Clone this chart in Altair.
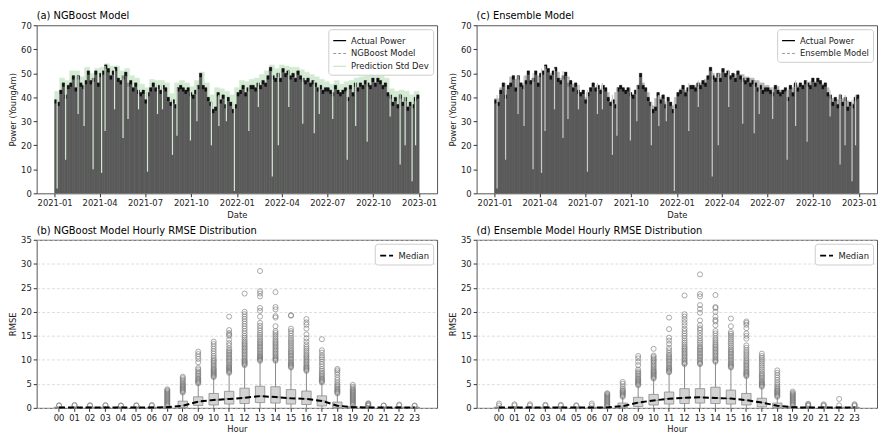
import altair as alt
import pandas as pd

FONT = "DejaVu Sans"

# ---------------- top panels: daily peak envelope of actual power (5-day steps from 2021-01-01)
actual_peak = [
    39, 38, 43, 46, 41, 45, 46, 49, 44, 49, 46, 45,
    47, 51, 47, 48, 51, 46, 50, 51, 53.5, 52, 49, 51,
    52.5, 48, 47, 49, 50.5, 46, 47, 44, 46, 43, 42, 43,
    39, 42, 44, 46, 44, 45, 43, 45, 44, 40, 38, 39,
    37, 44, 45, 44, 43, 44, 42, 41, 43, 45, 50, 45,
    44, 40, 38, 35, 36, 42, 39, 41, 37, 40, 38, 35, 37,
    42, 43, 45, 42, 44, 45, 45, 44, 46, 45, 47, 46,
    49, 52.5, 49, 48, 50, 48, 52, 50, 51, 49, 50, 48,
    51, 49, 48, 47, 48, 46, 47, 46, 44, 45, 43, 44,
    44, 43, 42, 45, 43, 42, 43, 44, 40, 45, 42, 46,
    44, 46, 45, 47, 46, 45, 48, 46, 48, 47, 45, 46,
    42, 41, 38, 40, 37, 41, 38, 40, 36, 38, 37, 40, 41,
]
# NGBoost prediction + std (10-day steps)
ngb_band_top = [
    42.5, 48, 47, 51, 51, 48.5, 52.5, 50, 52, 52.5, 54, 53,
    53, 51, 52, 49, 48, 45.5, 44, 47.5, 47, 47, 46, 41.5,
    46, 47, 46, 44.5, 47, 50.5, 46, 41, 44, 43.5, 42.5, 41,
    44, 47, 46.5, 47.5, 48, 49.5, 51, 53.5, 52, 53.5, 53, 52.5,
    52.5, 51.5, 50.5, 49.5, 48.5, 47.5, 46.5, 45.5, 47, 45.5, 46.5, 47,
    48, 48.5, 49, 50, 50, 49, 48, 43.5, 42.5, 43, 42.5, 41, 42.5,
]
# Ensemble prediction peaks (10-day steps)
ens_top = [
    39.5, 44, 43, 48.5, 47.5, 46, 49, 47, 49, 50, 52, 50,
    50.5, 48, 48.5, 45.5, 45, 42, 40, 44, 43.5, 43.5, 42, 38,
    42, 43.5, 42.5, 41, 43, 46, 42, 36.5, 39.5, 40, 38, 36.5,
    40, 43.5, 43, 44.5, 45, 46, 47.5, 50, 48.5, 50, 49.5, 49,
    49.5, 49.5, 48.5, 48, 47, 46, 45, 44, 44.5, 43, 43, 44,
    45, 45, 46, 46.5, 46.5, 45.5, 44, 39.5, 39, 39.5, 38.5, 37.5, 39,
]
# cloudy-day dips: date, lowest peak, envelope level
dip_dates = [
    "2021-01-06", "2021-01-23", "2021-02-17", "2021-03-01", "2021-03-19", "2021-04-05",
    "2021-04-12", "2021-05-01", "2021-05-18", "2021-05-28", "2021-06-18", "2021-07-06",
    "2021-07-26", "2021-08-05", "2021-08-25", "2021-09-03", "2021-09-30", "2021-10-13",
    "2021-11-11", "2021-11-26", "2021-12-11", "2021-12-27", "2022-01-25", "2022-02-13",
    "2022-03-13", "2022-03-25", "2022-04-15", "2022-05-13", "2022-06-05", "2022-06-15",
    "2022-07-12", "2022-08-10", "2022-08-27", "2022-09-19", "2022-11-04", "2022-11-24",
    "2022-12-04", "2022-12-18", "2022-12-25",
]
dip_low = [
    2, 14, 33, 28, 10, 8.5, 26, 35, 23, 31, 35, 9,
    33, 35, 16, 24, 22, 30, 20, 28, 30, 1, 26, 36,
    7, 20, 36, 29, 25, 33, 31, 14, 28, 21.5, 32, 12,
    20, 5, 20,
]
dip_top = [
    41, 46, 49, 49, 50, 52, 53, 52, 51, 48, 45, 43,
    46, 46, 41, 44, 44, 45, 38, 41, 40, 38, 46, 47,
    51, 50, 51, 49, 47, 46, 44, 43, 47, 47, 43, 41,
    41, 39, 41,
]

date_ticks = [(2021, 1), (2021, 4), (2021, 7), (2021, 10), (2022, 1), (2022, 4),
              (2022, 7), (2022, 10), (2023, 1)]

# ---------------- bottom panels: hourly RMSE distributions
hours = [f"{h:02d}" for h in range(24)]

ngb_q1 = [0, 0, 0, 0, 0, 0, 0, 0, 0.05, 0.5, 0.6, 0.8, 0.9, 1.1, 1.0, 0.8, 0.7, 0.4, 0.05, 0, 0, 0, 0, 0]
ngb_med = [0.08, 0.08, 0.08, 0.08, 0.08, 0.08, 0.08, 0.15, 0.45, 1.3, 1.65, 1.85, 2.1, 2.45, 2.25, 2.0, 1.85, 1.45, 0.45, 0.15, 0.08, 0.08, 0.08, 0.08]
ngb_q3 = [0.15, 0.15, 0.15, 0.15, 0.15, 0.15, 0.15, 0.2, 1.4, 2.3, 3.0, 3.45, 4.1, 4.5, 4.4, 3.8, 3.5, 2.5, 1.2, 0.25, 0.15, 0.15, 0.15, 0.15]
ngb_whi = [0.3, 0.3, 0.3, 0.3, 0.3, 0.3, 0.3, 0.4, 3.1, 5.0, 6.3, 7.2, 8.8, 9.7, 9.7, 8.3, 7.6, 5.2, 2.9, 0.55, 0.3, 0.3, 0.3, 0.3]
ngb_out = {
    "00": [0.45, 0.55], "01": [0.5, 0.6], "02": [0.45, 0.55], "03": [0.5, 0.55],
    "04": [0.45, 0.5], "05": [0.45, 0.55], "06": [0.45, 0.6],
    "07": [0.45, 0.65, 0.85, 1.05, 1.25, 1.45, 1.65, 1.85, 2.05, 2.25, 2.45, 2.65, 2.85, 3.05, 3.25, 3.45, 3.65, 3.85],
    "08": [3.2, 3.4, 3.6, 3.8, 4.0, 4.2, 4.4, 4.6, 4.8, 5.0, 5.3, 5.6, 5.9, 6.2, 6.5],
    "09": [5.1, 5.3, 5.5, 5.7, 5.9, 6.1, 6.4, 6.7, 7.0, 7.3, 7.6, 8.0, 8.3, 9.5, 10.2, 10.7, 11.2, 11.7],
    "10": [6.4, 6.6, 6.8, 7.0, 7.2, 7.4, 7.6, 7.8, 8.0, 8.2, 8.5, 8.8, 9.1, 9.4, 9.7, 10.0, 10.4, 10.8, 11.3, 11.8, 12.3, 12.8, 13.3, 13.8],
    "11": [7.3, 7.5, 7.7, 7.9, 8.1, 8.3, 8.5, 8.7, 9.0, 9.3, 9.6, 9.9, 10.2, 10.5, 10.8, 11.1, 11.4, 11.7, 12.0, 12.4, 13.0, 13.5, 14.2, 15.0, 15.3, 15.6, 16.2, 19.0],
    "12": [8.9, 9.1, 9.3, 9.5, 9.7, 9.9, 10.2, 10.5, 10.8, 11.1, 11.4, 11.7, 12.0, 12.3, 12.6, 12.9, 13.2, 13.5, 13.8, 14.2, 14.6, 15.0, 15.5, 16.0, 16.5, 17.0, 17.5, 18.0, 18.5, 19.0, 19.5, 20.0, 23.8],
    "13": [9.8, 10.0, 10.2, 10.4, 10.6, 10.8, 11.0, 11.3, 11.6, 11.9, 12.2, 12.5, 12.8, 13.1, 13.4, 13.7, 14.0, 14.4, 14.8, 15.2, 15.6, 16.1, 16.6, 17.1, 17.7, 19.0, 20.2, 20.8, 23.2, 23.8, 24.3, 28.5],
    "14": [9.8, 10.0, 10.2, 10.4, 10.7, 11.0, 11.3, 11.6, 11.9, 12.2, 12.5, 12.8, 13.1, 13.4, 13.7, 14.0, 14.4, 14.8, 15.2, 15.6, 16.0, 17.0, 18.8, 19.1, 20.5, 21.0, 24.1],
    "15": [8.4, 8.6, 8.8, 9.0, 9.2, 9.4, 9.7, 10.0, 10.3, 10.6, 10.9, 11.2, 11.5, 11.8, 12.1, 12.5, 12.9, 13.3, 13.7, 14.1, 14.5, 15.0, 15.5, 16.0, 16.5, 19.2, 19.3],
    "16": [7.7, 7.9, 8.1, 8.3, 8.5, 8.7, 9.0, 9.3, 9.6, 9.9, 10.2, 10.5, 10.8, 11.1, 11.5, 11.9, 12.3, 12.7, 13.2, 13.8, 14.5, 15.3, 16.5, 17.3, 17.8, 18.5],
    "17": [5.3, 5.5, 5.7, 5.9, 6.1, 6.4, 6.7, 7.0, 7.3, 7.7, 8.1, 8.6, 9.1, 9.6, 10.1, 10.5, 10.9, 11.5, 12.0, 14.3],
    "18": [3.0, 3.2, 3.4, 3.6, 3.8, 4.0, 4.3, 4.6, 4.9, 5.3, 5.8, 6.3, 6.9, 7.4, 7.8, 8.1],
    "19": [0.6, 0.8, 1.0, 1.2, 1.4, 1.6, 1.8, 2.0, 2.2, 2.4, 2.6, 2.8, 3.0, 3.2, 3.4, 3.6, 3.8, 4.1, 4.4, 4.8],
    "20": [0.4, 0.55, 0.7, 0.85, 0.95], "21": [0.45, 0.5], "22": [0.5, 0.7], "23": [0.4, 0.5],
}

ens_q1 = [0, 0, 0, 0, 0, 0, 0, 0, 0.05, 0.3, 0.6, 0.8, 0.9, 1.0, 0.9, 0.8, 0.6, 0.2, 0.05, 0, 0, 0, 0, 0]
ens_med = [0.07, 0.07, 0.07, 0.07, 0.07, 0.07, 0.07, 0.1, 0.35, 1.1, 1.55, 1.9, 2.1, 2.2, 2.05, 1.95, 1.6, 1.1, 0.45, 0.12, 0.07, 0.07, 0.07, 0.07]
ens_q3 = [0.15, 0.15, 0.15, 0.15, 0.15, 0.15, 0.15, 0.15, 1.0, 2.2, 2.8, 3.3, 4.0, 4.0, 4.3, 3.7, 3.0, 2.0, 1.0, 0.25, 0.15, 0.15, 0.15, 0.15]
ens_whi = [0.3, 0.3, 0.3, 0.3, 0.3, 0.3, 0.3, 0.25, 2.2, 4.6, 6.0, 7.3, 9.0, 9.0, 9.5, 8.3, 6.5, 4.3, 2.2, 0.45, 0.3, 0.3, 0.3, 0.3]
ens_out = {
    "00": [0.5, 0.9], "01": [0.5, 0.75], "02": [0.5, 0.75], "03": [0.45, 0.65],
    "04": [0.45, 0.65], "05": [0.4, 0.55], "06": [0.5, 0.9],
    "07": [0.3, 0.5, 0.7, 0.9, 1.1, 1.3, 1.5, 1.7, 1.9, 2.1, 2.3, 2.5, 2.7, 2.9, 3.05],
    "08": [2.3, 2.5, 2.7, 2.9, 3.1, 3.3, 3.5, 3.7, 4.0, 4.5, 5.0, 5.4],
    "09": [4.7, 4.9, 5.1, 5.3, 5.5, 5.7, 5.9, 6.1, 6.4, 6.7, 7.0, 7.3, 7.6, 8.0, 8.9, 9.6, 10.3, 10.8],
    "10": [6.1, 6.3, 6.5, 6.7, 6.9, 7.1, 7.3, 7.5, 7.7, 7.9, 8.2, 8.5, 8.8, 9.1, 9.4, 9.7, 10.0, 10.3, 10.6, 10.9, 12.3],
    "11": [7.4, 7.6, 7.8, 8.0, 8.2, 8.4, 8.7, 9.0, 9.3, 9.6, 9.9, 10.2, 10.5, 10.8, 11.1, 11.5, 12.0, 12.5, 13.3, 14.0, 14.6, 16.4, 18.8],
    "12": [9.1, 9.3, 9.5, 9.8, 10.1, 10.4, 10.7, 11.0, 11.3, 11.6, 11.9, 12.2, 12.5, 12.8, 13.2, 13.6, 14.0, 14.5, 15.0, 15.5, 16.0, 16.5, 17.2, 17.8, 18.4, 19.0, 19.5, 23.4],
    "13": [9.1, 9.3, 9.5, 9.8, 10.1, 10.4, 10.7, 11.0, 11.3, 11.6, 11.9, 12.2, 12.5, 12.8, 13.2, 13.6, 14.0, 14.5, 15.0, 15.6, 16.2, 16.6, 17.2, 18.2, 19.8, 20.6, 21.4, 23.2, 23.7, 27.8],
    "14": [9.6, 9.8, 10.0, 10.3, 10.6, 10.9, 11.2, 11.5, 11.8, 12.1, 12.4, 12.7, 13.0, 13.3, 13.7, 14.1, 14.5, 15.0, 15.5, 16.0, 17.2, 18.0, 18.3, 19.0, 20.0, 20.8, 21.0, 23.5],
    "15": [8.4, 8.6, 8.8, 9.0, 9.2, 9.5, 9.8, 10.1, 10.4, 10.7, 11.0, 11.3, 11.6, 11.9, 12.2, 12.6, 13.0, 13.4, 13.8, 14.2, 14.6, 15.0, 15.4, 15.8, 17.0, 18.6],
    "16": [6.6, 6.8, 7.0, 7.2, 7.4, 7.6, 7.9, 8.2, 8.5, 8.8, 9.1, 9.4, 9.7, 10.0, 10.4, 10.8, 11.2, 11.6, 12.0, 12.5, 13.0, 14.4, 15.0, 15.5, 16.6, 17.3, 17.7, 18.0],
    "17": [4.4, 4.6, 4.8, 5.0, 5.2, 5.4, 5.7, 6.0, 6.3, 6.6, 6.9, 7.2, 7.6, 8.0, 8.4, 8.8, 9.2, 9.6, 10.0, 10.4, 10.8, 11.3],
    "18": [2.3, 2.5, 2.7, 2.9, 3.1, 3.3, 3.5, 3.7, 3.9, 4.2, 4.5, 4.9, 5.3, 5.8, 6.3, 6.8, 7.3, 7.8],
    "19": [0.5, 0.7, 0.9, 1.1, 1.3, 1.5, 1.7, 1.9, 2.1, 2.3, 2.5, 2.7, 2.9, 3.1, 3.4],
    "20": [0.4, 0.55, 0.7, 0.85], "21": [0.4, 0.55, 0.75], "22": [0.5, 1.85], "23": [0.4, 0.6, 0.75],
}

# ---------------- layout constants
W, H = 405, 170
FILL = "#5a5a5a"


def utc(y, m, d=1):
    return alt.DateTime(year=y, month=m, date=d, utc=True)


starts5 = pd.date_range("2021-01-01", periods=len(actual_peak), freq="5D")
starts10 = pd.date_range("2021-01-01", periods=len(ngb_band_top), freq="10D")


def xenc(field):
    return alt.X(
        f"{field}:T",
        title="Date",
        scale=alt.Scale(type="utc", domain=[utc(2020, 11, 26), utc(2023, 2, 6)]),
        axis=alt.Axis(values=[utc(y, m) for y, m in date_ticks], format="%Y-%m",
                      labelAngle=0, grid=False),
    )


def yenc(field):
    return alt.Y(
        f"{field}:Q",
        title="Power (YoungAm)",
        scale=alt.Scale(domain=[0, 70], nice=False),
        axis=alt.Axis(values=list(range(0, 71, 10)), grid=False),
    )


def top_panel(title, under_vals, under_color, dip_color, labels, colors, dashes, widths):
    peaks_df = pd.DataFrame({
        "start": starts5.strftime("%Y-%m-%d"),
        "end": (starts5 + pd.Timedelta(days=5)).strftime("%Y-%m-%d"),
        "peak": actual_peak,
    })
    under_df = pd.DataFrame({
        "start": starts10.strftime("%Y-%m-%d"),
        "end": (starts10 + pd.Timedelta(days=10)).strftime("%Y-%m-%d"),
        "top": under_vals,
    })
    dips_df = pd.DataFrame({"date": dip_dates, "low": dip_low, "top": dip_top})
    leg_df = pd.DataFrame({"series": labels, "date": ["2021-06-01"] * len(labels),
                           "v": [20] * len(labels)})

    under = alt.Chart(under_df).mark_rect(color=under_color, stroke=under_color, strokeWidth=0.5).encode(
        x=xenc("start"), x2="end:T", y=yenc("top"), y2=alt.datum(0))
    fill = alt.Chart(peaks_df).mark_rect(color=FILL, stroke=FILL, strokeWidth=0.6).encode(
        x=xenc("start"), x2="end:T", y=yenc("peak"), y2=alt.datum(0))
    caps = alt.Chart(peaks_df).transform_calculate(capb="datum.peak - 1.6").mark_rect(
        color="#111111").encode(x=xenc("start"), x2="end:T", y=yenc("peak"), y2="capb:Q")
    dips = alt.Chart(dips_df).mark_rule(color=dip_color, strokeWidth=1.2).encode(
        x=xenc("date"), y=yenc("low"), y2="top:Q")
    leg = alt.Chart(leg_df).mark_line().encode(
        x=xenc("date"), y=yenc("v"),
        color=alt.Color("series:N", scale=alt.Scale(domain=labels, range=colors),
                        legend=alt.Legend(title=None)),
        strokeDash=alt.StrokeDash("series:N", scale=alt.Scale(domain=labels, range=dashes),
                                  legend=alt.Legend(title=None)),
        strokeWidth=alt.StrokeWidth("series:N", scale=alt.Scale(domain=labels, range=widths),
                                    legend=alt.Legend(title=None)),
    )
    return alt.layer(under, fill, caps, dips, leg).properties(
        width=W, height=H,
        title=alt.TitleParams(title, anchor="start", frame="group", fontSize=10,
                              fontWeight="normal", font=FONT, offset=0),
    )


def box_panel(title, q1, med, q3, whi, outs):
    stats = pd.DataFrame({"hour": hours, "q1": q1, "med": med, "q3": q3, "whi": whi,
                          "wlo": [0.0] * 24, "series": ["Median"] * 24})
    rows = [(h, v) for h in hours for v in outs.get(h, [])]
    out_df = pd.DataFrame(rows, columns=["hour", "v"])

    def x():
        return alt.X("hour:O", title="Hour", sort=hours,
                     scale=alt.Scale(paddingInner=0, paddingOuter=0.95),
                     axis=alt.Axis(labelAngle=0, grid=False))

    def y(field):
        return alt.Y(f"{field}:Q", title="RMSE",
                     scale=alt.Scale(domain=[0, 35], nice=False),
                     axis=alt.Axis(values=list(range(0, 36, 5)), grid=True,
                                   gridDash=[3, 2], gridColor="#cfcfcf", gridWidth=0.7))

    base = alt.Chart(stats)
    whisk = base.mark_rule(color="#8a8a8a", strokeWidth=1).encode(x=x(), y=y("wlo"), y2="whi:Q")
    box = base.mark_bar(size=9.5, fill="#d3d3d3", stroke="#8a8a8a", strokeWidth=0.8).encode(
        x=x(), y=y("q1"), y2="q3:Q")
    medtick = base.mark_tick(size=9.5, thickness=1, color="#8a8a8a").encode(x=x(), y=y("med"))
    pts = alt.Chart(out_df).mark_point(shape="circle", filled=False, color="#777777",
                                       size=26, strokeWidth=0.9).encode(x=x(), y=y("v"))
    line = base.mark_line(strokeDash=[6, 3], strokeWidth=2).encode(
        x=x(), y=y("med"),
        color=alt.Color("series:N", scale=alt.Scale(domain=["Median"], range=["black"]),
                        legend=alt.Legend(title=None, symbolDash=[6, 3], symbolStrokeWidth=2)),
    )
    return alt.layer(whisk, box, medtick, pts, line).properties(
        width=W, height=H,
        title=alt.TitleParams(title, anchor="start", frame="group", fontSize=10,
                              fontWeight="normal", font=FONT, offset=0),
    )


pa = top_panel("(a) NGBoost Model", ngb_band_top, "#d2ebd2", "#d6e8d6",
               ["Actual Power", "NGBoost Model", "Prediction Std Dev"],
               ["#000000", "#9a9a9a", "#b5dfb5"], [[1, 0], [3, 2], [1, 0]], [1.2, 1, 7])
pc = top_panel("(c) Ensemble Model", ens_top, "#b8b8b8", "#cccccc",
               ["Actual Power", "Ensemble Model"],
               ["#000000", "#9a9a9a"], [[1, 0], [3, 2]], [1.2, 1])
pb = box_panel("(b) NGBoost Model Hourly RMSE Distribution", ngb_q1, ngb_med, ngb_q3, ngb_whi, ngb_out)
pd_ = box_panel("(d) Ensemble Model Hourly RMSE Distribution", ens_q1, ens_med, ens_q3, ens_whi, ens_out)

chart = alt.concat(pa, pc, pb, pd_, columns=2, spacing={"row": 6, "column": 10}).resolve_scale(
    color="independent", strokeDash="independent", strokeWidth="independent", x="independent", y="independent"
).resolve_legend(color="independent", strokeDash="independent", strokeWidth="independent").properties(
    padding={"left": 0, "top": 0, "right": 0, "bottom": 0}
).configure(font=FONT).configure_view(stroke="#555555", strokeWidth=1).configure_axis(
    labelFontSize=8.5, titleFontSize=8.5, titleFontWeight="normal", labelColor="#222222",
    titleColor="#222222", domain=False, tickColor="#333333", tickSize=3.5, labelPadding=2,
    titlePadding=3, labelFont=FONT, titleFont=FONT,
).configure_legend(
    orient="top-right", offset=4, padding=4, strokeColor="#cccccc", fillColor="white",
    cornerRadius=3, labelFontSize=8.5, labelFont=FONT, symbolSize=170, rowPadding=1,
    symbolType="stroke", labelColor="#222222",
)

chart.save("out.html", embed_options={"renderer": "svg", "actions": False})
